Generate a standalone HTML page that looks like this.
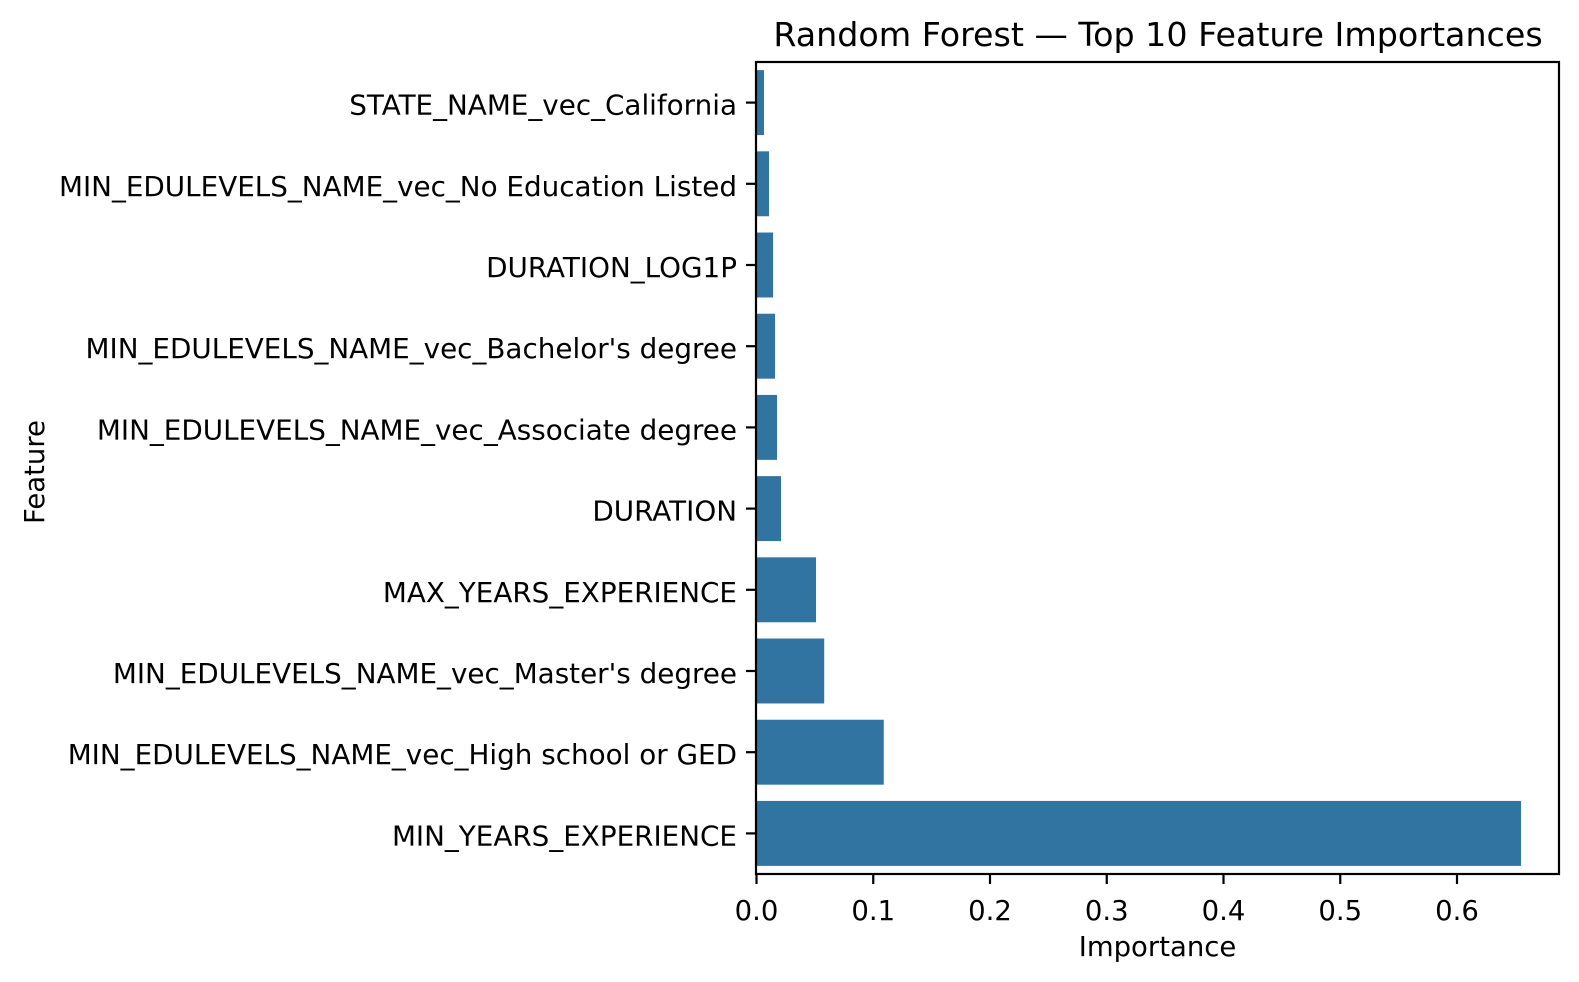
<!DOCTYPE html>
<html><head><meta charset="utf-8"><style>
html,body{margin:0;padding:0;background:#fff;}
svg{display:block;font-family:"DejaVu Sans","Liberation Sans",sans-serif;}
</style></head><body>
<svg id="chart" width="1579" height="982" viewBox="0 0 1579 982" xmlns="http://www.w3.org/2000/svg">
<rect width="1579" height="982" fill="#fff"/>
<text x="1158" y="46" font-size="33.3" text-anchor="middle" fill="#000">Random Forest — Top 10 Feature Importances</text>
<g id="bars"></g>
<g id="yticks"></g>
<g id="xticks"></g>
<rect x="756" y="62" width="803" height="812" fill="none" stroke="#000" stroke-width="2.2"/>
<text x="1157.5" y="956" font-size="27.5" text-anchor="middle" fill="#000">Importance</text>
<text x="0" y="0" font-size="27.5" text-anchor="middle" fill="#000" transform="translate(44,472) rotate(-90)">Feature</text>
</svg>
<script>
const categories = ["STATE_NAME_vec_California","MIN_EDULEVELS_NAME_vec_No Education Listed","DURATION_LOG1P","MIN_EDULEVELS_NAME_vec_Bachelor's degree","MIN_EDULEVELS_NAME_vec_Associate degree","DURATION","MAX_YEARS_EXPERIENCE","MIN_EDULEVELS_NAME_vec_Master's degree","MIN_EDULEVELS_NAME_vec_High school or GED","MIN_YEARS_EXPERIENCE"];
const importances = [0.0064,0.0107,0.0142,0.0159,0.0176,0.021,0.051,0.058,0.109,0.6548];
const xTickValues = [0,0.1,0.2,0.3,0.4,0.5,0.6];
const xTickLabels = ["0.0","0.1","0.2","0.3","0.4","0.5","0.6"];

const NS="http://www.w3.org/2000/svg";
const X0=756.5, XSCALE=(1457-756.5)/0.6, Y0=62, BAND=81.2;
const xPos=v=>X0+v*XSCALE;
const yCenter=i=>Y0+BAND*(i+0.5);
const barsG=document.getElementById('bars'), yG=document.getElementById('yticks'), xG=document.getElementById('xticks');
function mk(tag,attrs){const e=document.createElementNS(NS,tag);for(const k in attrs)e.setAttribute(k,attrs[k]);return e;}
categories.forEach((c,i)=>{
  const h=BAND*0.8;
  const r=mk('rect',{x:X0,y:yCenter(i)-h/2,width:xPos(importances[i])-X0,height:h,fill:'#3274a1'});
  
  
  barsG.appendChild(r);
  const t=mk('line',{x1:746,x2:756,y1:yCenter(i),y2:yCenter(i),stroke:'#000','stroke-width':2.2});
  
  
  yG.appendChild(t);
  const l=mk('text',{x:737,y:yCenter(i)+12,'font-size':27.8,'text-anchor':'end',fill:'#000'});
  l.textContent=c;
  
  
  yG.appendChild(l);
});
xTickValues.forEach((v,i)=>{
  const t=mk('line',{x1:xPos(v),x2:xPos(v),y1:874,y2:884,stroke:'#000','stroke-width':2.2});
  
  
  xG.appendChild(t);
  const l=mk('text',{x:xPos(v),y:920,'font-size':27.5,'text-anchor':'middle',fill:'#000'});
  l.textContent=xTickLabels[i];
  
  
  xG.appendChild(l);
});
</script>
</body></html>
